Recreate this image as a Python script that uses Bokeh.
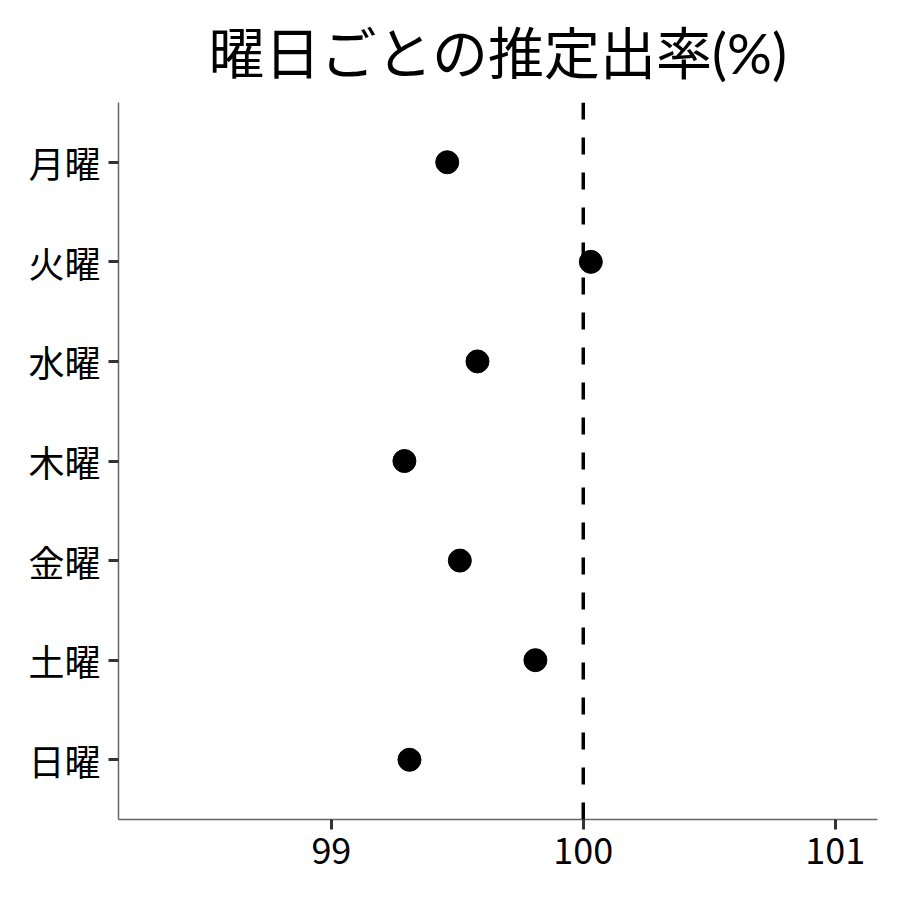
from bokeh.plotting import figure
from bokeh.models import Range1d, FixedTicker, Span, ColumnDataSource
from bokeh.embed import file_html
from bokeh.resources import INLINE

# ---- data ----
days = ["月曜", "火曜", "水曜", "木曜", "金曜", "土曜", "日曜"]
rates = [99.46, 100.03, 99.58, 99.29, 99.51, 99.81, 99.31]
x_ticks = [99, 100, 101]
reference_value = 100
title_text = "曜日ごとの推定出率(%)"

FONT = "Noto Sans CJK JP"

ypos = [len(days) - i for i in range(len(days))]  # 月曜 at top
src = ColumnDataSource(dict(x=rates, y=ypos, day=days))

p = figure(width=892, height=892, output_backend="svg", toolbar_location=None,
           x_range=Range1d(98.155, 101.168), y_range=Range1d(0.4, 7.6),
           min_border_left=118, min_border_right=15, min_border_top=101, min_border_bottom=73)

p.title.text = title_text
p.title.text_font = "Lato, Noto Sans CJK JP"
p.title.text_font_size = "56px"
p.title.text_font_style = "normal"
p.title.align = "center"
p.title.text_color = "black"
p.title.standoff = 33

p.grid.visible = False
p.outline_line_color = None
p.background_fill_color = "white"
p.border_fill_color = "white"

for ax in (p.xaxis[0], p.yaxis[0]):
    ax.axis_line_color = "#666666"
    ax.axis_line_width = 1.5
    ax.major_tick_line_color = "#333333"
    ax.major_tick_line_width = 3
    ax.major_tick_out = 10
    ax.major_tick_in = 0
    ax.minor_tick_line_color = None
    ax.major_label_text_font = FONT
    ax.major_label_text_font_size = "36px"
    ax.major_label_text_color = "black"
    ax.major_label_standoff = 8

p.xaxis[0].ticker = FixedTicker(ticks=x_ticks)
p.xaxis[0].major_label_overrides = {t: str(t) for t in x_ticks}
p.yaxis[0].ticker = FixedTicker(ticks=ypos)
p.yaxis[0].major_label_overrides = {y: d for y, d in zip(ypos, days)}

p.add_layout(Span(location=reference_value, dimension="height", line_color="black",
                  line_width=3.5, line_dash="17 18"))

p.scatter("x", "y", source=src, size=23, color="black")

open("out.html", "w").write(file_html(p, INLINE))
